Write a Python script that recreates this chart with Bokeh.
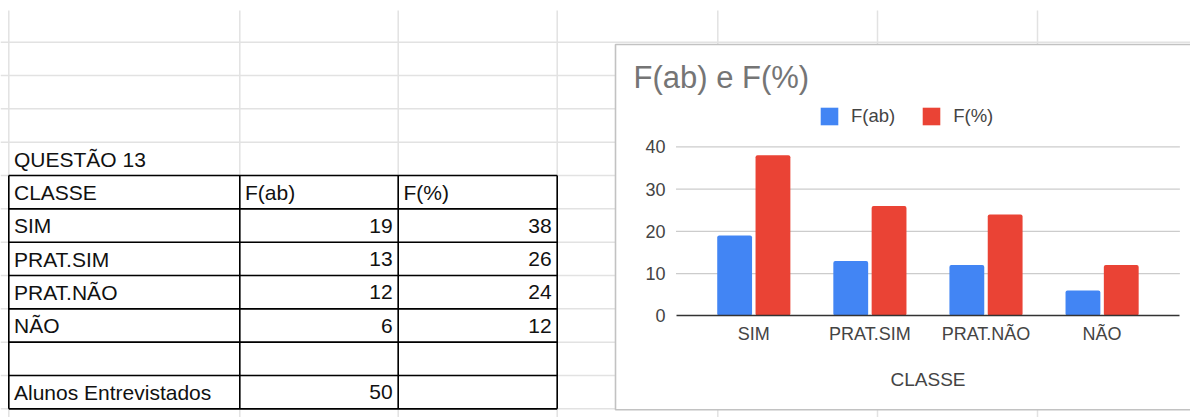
from bokeh.plotting import figure
from bokeh.models import (Range1d, LinearAxis, FixedTicker, ColumnDataSource,
                          Legend, LegendItem, Label)
from bokeh.transform import dodge
from bokeh.core.properties import value
from bokeh.embed import file_html
from bokeh.resources import INLINE

# ---------------- data ----------------
chart_title = "F(ab) e F(%)"
question = "QUESTÃO 13"
header = ["CLASSE", "F(ab)", "F(%)"]
classes = ["SIM", "PRAT.SIM", "PRAT.NÃO", "NÃO"]
f_ab = [19, 13, 12, 6]
f_pct = [38, 26, 24, 12]
total_label = "Alunos Entrevistados"
total_ab = 50
series_names = ["F(ab)", "F(%)"]
y_ticks = [0, 10, 20, 30, 40]
x_title = "CLASSE"

# ---------------- layout constants (page pixels) ----------------
W, H = 1190, 417
LEFT, TOP = 0, 0
RIGHT, BOTTOM = LEFT + W, TOP + H
FONT = "Liberation Sans"
SHEET_GRID = "#e2e2e2"

col_x = [8.3, 239.3, 397.7, 556.7, 717.3, 877.0, 1037.0]
ROW_H = 33.33
row_y = [41.7 + k * ROW_H for k in range(12)]

p = figure(width=W, height=H, output_backend="svg", toolbar_location=None,
           x_axis_type=None, y_axis_type=None,
           x_range=Range1d(LEFT, RIGHT), y_range=Range1d(BOTTOM, TOP),
           min_border=0, outline_line_color=None)
p.background_fill_color = "white"
p.border_fill_color = "white"

# spreadsheet grid
p.segment(x0=col_x, x1=col_x, y0=[10] * len(col_x), y1=[430] * len(col_x),
          line_color=SHEET_GRID, line_width=1.5)
p.segment(x0=[0] * len(row_y), x1=[1300] * len(row_y), y0=row_y, y1=row_y,
          line_color=SHEET_GRID, line_width=1.5)

# table borders
t_rows = row_y[4:12]
t_cols = col_x[0:4]
p.segment(x0=[t_cols[0]] * len(t_rows), x1=[t_cols[-1]] * len(t_rows),
          y0=t_rows, y1=t_rows, line_color="black", line_width=1.6)
p.segment(x0=t_cols, x1=t_cols, y0=[t_rows[0]] * len(t_cols),
          y1=[t_rows[-1]] * len(t_cols), line_color="black", line_width=1.6)

# table texts (vertically centred in their rows)
def row_mid(k):
    return (row_y[k - 1] + row_y[k]) / 2 + 0.3

left_txt, left_x, left_y = [], [], []
right_txt, right_x, right_y = [], [], []
left_txt.append(question); left_x.append(t_cols[0] + 5.2); left_y.append(row_mid(4))
for j, h in enumerate(header):
    left_txt.append(h); left_x.append(t_cols[j] + 5.2); left_y.append(row_mid(5))
for i, c in enumerate(classes):
    ym = row_mid(6 + i)
    left_txt.append(c); left_x.append(t_cols[0] + 5.2); left_y.append(ym)
    right_txt.append(str(f_ab[i])); right_x.append(t_cols[2] - 5.5); right_y.append(ym)
    right_txt.append(str(f_pct[i])); right_x.append(t_cols[3] - 5.5); right_y.append(ym)
ym = row_mid(11)
left_txt.append(total_label); left_x.append(t_cols[0] + 5.2); left_y.append(ym)
right_txt.append(str(total_ab)); right_x.append(t_cols[2] - 5.5); right_y.append(ym)

p.text(x=left_x, y=left_y, text=left_txt, text_font=value(FONT),
       text_font_size="21px", text_color="#111111", text_baseline="middle",
       text_align="left")
p.text(x=right_x, y=right_y, text=right_txt, text_font=value(FONT),
       text_font_size="21px", text_color="#111111", text_baseline="middle",
       text_align="right")

# chart box
BOX_L, BOX_T, BOX_B = 615, 44, 409.3
p.quad(left=[BOX_L], right=[1300], top=[BOX_T], bottom=[BOX_B],
       fill_color="white", line_color="#c2c2c2", line_width=1.6)

# chart scales mapped onto page pixels
C0, STEP = 753.3, 116.1          # px of first category, px per category
ZERO_PX, PPU = 315.3, 4.225       # px of value 0, px per unit
p.extra_x_ranges = {"cx": Range1d((LEFT - C0) / STEP, (RIGHT - C0) / STEP)}
p.extra_y_ranges = {"cy": Range1d((ZERO_PX - BOTTOM) / PPU, (ZERO_PX - TOP) / PPU)}
CAT_LO, CAT_HI = -0.67, len(classes) - 1 + 0.67

# gridlines
gl = y_ticks[1:]
p.segment(x0=[CAT_LO] * len(gl), x1=[CAT_HI] * len(gl), y0=gl, y1=gl,
          line_color="#cccccc", line_width=1.2, x_range_name="cx", y_range_name="cy")

src = ColumnDataSource(dict(idx=list(range(len(classes))), fab=f_ab, fpct=f_pct))
r1 = p.vbar(x=dodge("idx", -0.165), top="fab", bottom=0, width=0.30, source=src,
            fill_color="#4285F4", line_color=None, x_range_name="cx", y_range_name="cy")
r2 = p.vbar(x=dodge("idx", 0.165), top="fpct", bottom=0, width=0.30, source=src,
            fill_color="#EA4335", line_color=None, x_range_name="cx", y_range_name="cy")
for r in (r1, r2):
    try:
        r.glyph.border_radius = 2
    except Exception:
        pass

# axes inside the chart
yax = LinearAxis(y_range_name="cy", ticker=FixedTicker(ticks=y_ticks), fixed_location=675,
                 axis_line_color=None, major_tick_line_color=None, minor_tick_line_color=None,
                 major_tick_out=0, major_tick_in=0, major_label_standoff=10,
                 major_label_text_font=FONT, major_label_text_font_size="18px",
                 major_label_text_color="#444444")
p.add_layout(yax, "left")

xax = LinearAxis(x_range_name="cx", ticker=FixedTicker(ticks=list(range(len(classes)))),
                 major_label_overrides={i: c for i, c in enumerate(classes)},
                 fixed_location=ZERO_PX, bounds=(CAT_LO, CAT_HI),
                 axis_line_color="#333333", axis_line_width=1.5,
                 major_tick_line_color=None, minor_tick_line_color=None,
                 major_tick_out=0, major_tick_in=0, major_label_standoff=8,
                 major_label_text_font=FONT, major_label_text_font_size="18px",
                 major_label_text_color="#444444",
                 axis_label=x_title, axis_label_standoff=22,
                 axis_label_text_font=FONT, axis_label_text_font_size="19px",
                 axis_label_text_font_style="normal", axis_label_text_color="#444444")
p.add_layout(xax, "below")

# title
p.add_layout(Label(x=633, y=76.5, text=chart_title, text_font=FONT, text_font_size="31px",
                   text_color="#757575", text_baseline="middle"))

# legend
legend = Legend(items=[LegendItem(label=series_names[0], renderers=[r1]),
                       LegendItem(label=series_names[1], renderers=[r2])],
                orientation="horizontal", location=(818 - LEFT, BOTTOM - 126.5),
                border_line_color=None, background_fill_alpha=0,
                padding=0, margin=0, spacing=25, label_standoff=11,
                glyph_width=22, glyph_height=22, label_height=18,
                label_text_font=FONT, label_text_font_size="18.5px",
                label_text_color="#444444")
p.add_layout(legend)

open("out.html", "w").write(file_html(p, INLINE))
